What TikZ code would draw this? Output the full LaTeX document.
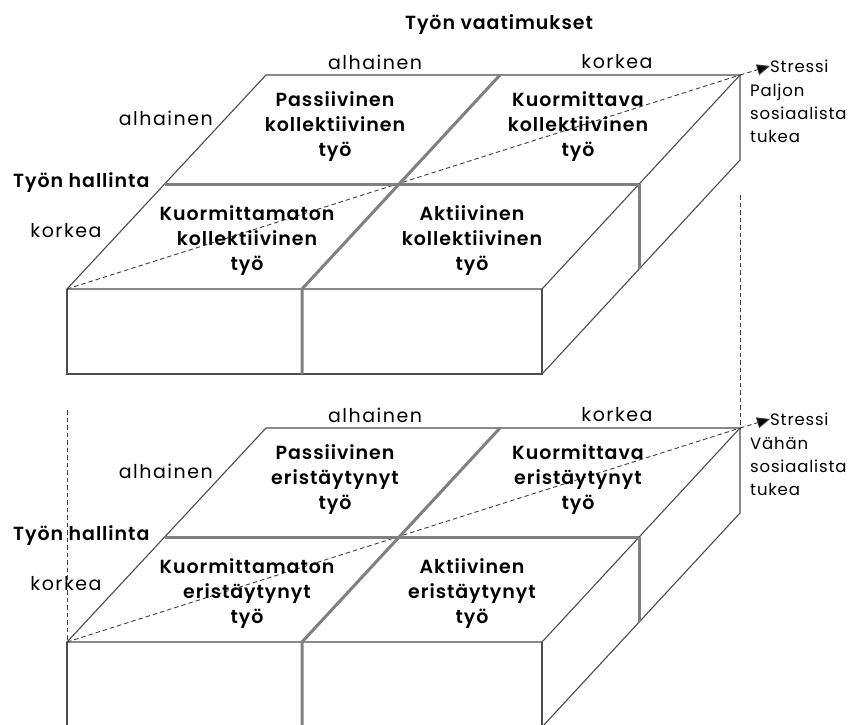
\documentclass[tikz,border=0pt]{standalone}
\usepackage{fontspec}
\setmainfont{Poppins}[BoldFont={Poppins SemiBold}]
\usetikzlibrary{arrows.meta}
\begin{document}
\begin{tikzpicture}[x=1pt,y=-1pt,
  edge/.style={draw=black!70, line width=1.1pt},
  divider/.style={draw=black!50, line width=3pt},
  axis/.style={draw=black!75, line width=0.9pt, dash pattern=on 4.5pt off 3pt},
  cell/.style={align=center, inner sep=0pt, font=\bfseries\fontsize{19}{25}\selectfont\addfontfeatures{LetterSpace=5}},
  lbl/.style={inner sep=0pt, font=\fontsize{19}{22}\selectfont\addfontfeatures{LetterSpace=8}},
  blbl/.style={inner sep=0pt, font=\bfseries\fontsize{19}{22}\selectfont\addfontfeatures{LetterSpace=5}},
  side/.style={inner sep=0pt, align=left, font=\fontsize{16.5}{23}\selectfont\addfontfeatures{LetterSpace=5}},
  tip/.style={-{Triangle[length=13pt,width=11pt,fill=black]}},
]
\useasboundingbox (0,0) rectangle (854,724);
\clip (0,0) rectangle (854,724);
\fill[white] (0,0) rectangle (854,724);

\node[blbl] (title) at (499,25) {Työn vaatimukset};

\foreach \p/\dy/\word/\tuki in {u/0/kollektiivinen/Paljon, l/353/eristäytynyt/Vähän}{
\begin{scope}[shift={(0,\dy)}]
  \coordinate (\p bl) at (67,289);
  \coordinate (\p br) at (542,289);
  \coordinate (\p kl) at (266,75);
  \coordinate (\p kr) at (740,75);
  \coordinate (\p fbl) at (67,374);
  \coordinate (\p fbr) at (542,374);
  \coordinate (\p kbr) at (740,160);
  \coordinate (\p ml) at (165,184);
  \coordinate (\p mr) at (639,184);
  \coordinate (\p mrb) at (639,269);
  \coordinate (\p mk) at (500,75);
  \coordinate (\p mf) at (302,289);
  \coordinate (\p mfb) at (302,374);
  % faces
  \draw[edge] (\p bl) -- (\p kl) -- (\p kr) -- (\p br) -- cycle;
  \draw[edge] (\p bl) -- (\p fbl) -- (\p fbr) -- (\p br);
  \draw[edge] (\p fbr) -- (\p kbr) -- (\p kr);
  % stress axis
  \draw[axis] (\p bl) -- (\p kr);
  \node[side, anchor=west] (\p stress) at (770,66) {Stressi};
  \draw[axis, tip] (\p kr) -- (\p stress.west);
  \node[side, anchor=north west] (\p tuki) at (750,84) {\tuki\\sosiaalista\\tukea};
  % dividers
  \draw[divider] (\p ml) -- (\p mr);
  \draw[divider] (\p mk) -- (\p mf) -- (\p mfb);
  \draw[divider] (\p mr) -- (\p mrb);
  % axis labels
  \node[lbl] (\p dlow) at (375,62) {alhainen};
  \node[lbl] (\p dhigh) at (617,62) {korkea};
  \node[lbl, anchor=east] (\p clow) at (213,118) {alhainen};
  \node[blbl, anchor=west] (\p ctl) at (13,183) {Työn hallinta};
  \node[lbl] (\p chigh) at (66,231) {korkea};
  % cells
  \node[cell] (\p c1) at (335,127) {Passiivinen\\\word\\työ};
  \node[cell] (\p c2) at (578,127) {Kuormittava\\\word\\työ};
  \node[cell] (\p c3) at (247,241) {Kuormittamaton\\\word\\työ};
  \node[cell] (\p c4) at (472,241) {Aktiivinen\\\word\\työ};
\end{scope}
}
% links between the two boxes
\coordinate (urtop) at (740,195);
\coordinate (lltop) at (67,410);
\draw[axis] (urtop) -- (lkr);
\draw[axis] (lltop) -- (lbl);
\end{tikzpicture}
\end{document}
